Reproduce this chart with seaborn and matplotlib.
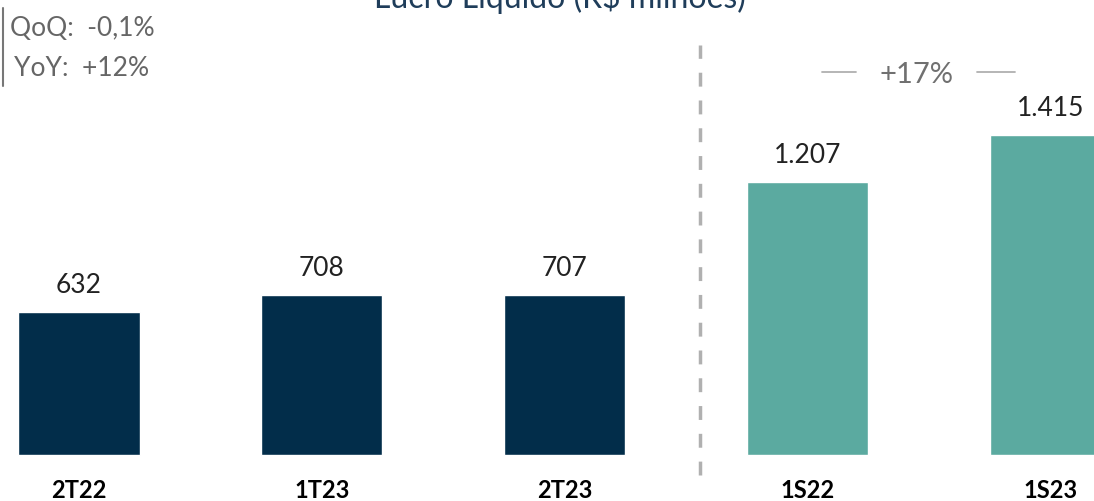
import matplotlib
matplotlib.use("Agg")
import matplotlib.pyplot as plt
import seaborn as sns
import pandas as pd

categories = ["2T22", "1T23", "2T23", "1S22", "1S23"]
values = [632, 708, 707, 1207, 1415]
value_labels = ["632", "708", "707", "1.207", "1.415"]
bar_colors = ["#022D4A", "#022D4A", "#022D4A", "#5BAAA0", "#5BAAA0"]
title = "Lucro Líquido (R$ milhões)"
qoq_text = "QoQ:  -0,1%"
yoy_text = "YoY:  +12%"
growth_text = "+17%"

sns.set_theme(style="white")
plt.rcParams['font.family'] = ['Lato', 'DejaVu Sans']

df = pd.DataFrame({"cat": categories, "val": values})

fig = plt.figure(figsize=(10.94, 5.01), dpi=100)
ax = fig.add_axes([0, 0, 1, 1])
sns.barplot(data=df, x="cat", y="val", hue="cat", palette=bar_colors,
            width=0.5, legend=False, ax=ax, saturation=1)
ax.set_xlim(-0.325, 4.18)
ax.set_ylim(-203, 2011)
ax.axis("off")

for i, (v, lab) in enumerate(zip(values, value_labels)):
    ax.text(i, v + 62, lab, ha="center", va="bottom", fontsize=19,
            color="#222222", fontweight="normal")
    ax.text(i, -155, categories[i], ha="center", va="center", fontsize=17,
            color="#000000", fontweight="bold")

# dashed separator
ax.plot([2.558, 2.558], [-90, 1810], linestyle=(0, (4, 4)), color="#b0b0b0", lw=2.5)

# growth annotation
ax.text(3.45, 1680, growth_text, ha="center", va="center", fontsize=21, color="#707070")
ax.plot([3.06, 3.2], [1695, 1695], color="#b0b0b0", lw=1.3)
ax.plot([3.70, 3.855], [1695, 1695], color="#b0b0b0", lw=1.3)

# title (partially cut at top in the reference)
fig.text(0.512, 1.0 + 0.006, title, ha="center", va="center", fontsize=23, color="#1f3d5a")

# QoQ / YoY box
fig.text(10 / 1094, 1 - 29 / 501, qoq_text, ha="left", va="center", fontsize=19, color="#666666")
fig.text(14 / 1094, 1 - 69 / 501, yoy_text, ha="left", va="center", fontsize=19, color="#666666")
fig.add_artist(plt.Line2D([3 / 1094, 3 / 1094], [1 - 8 / 501, 1 - 86 / 501],
                          color="#777777", lw=1.5, transform=fig.transFigure))

fig.savefig("out.png", dpi=100)
